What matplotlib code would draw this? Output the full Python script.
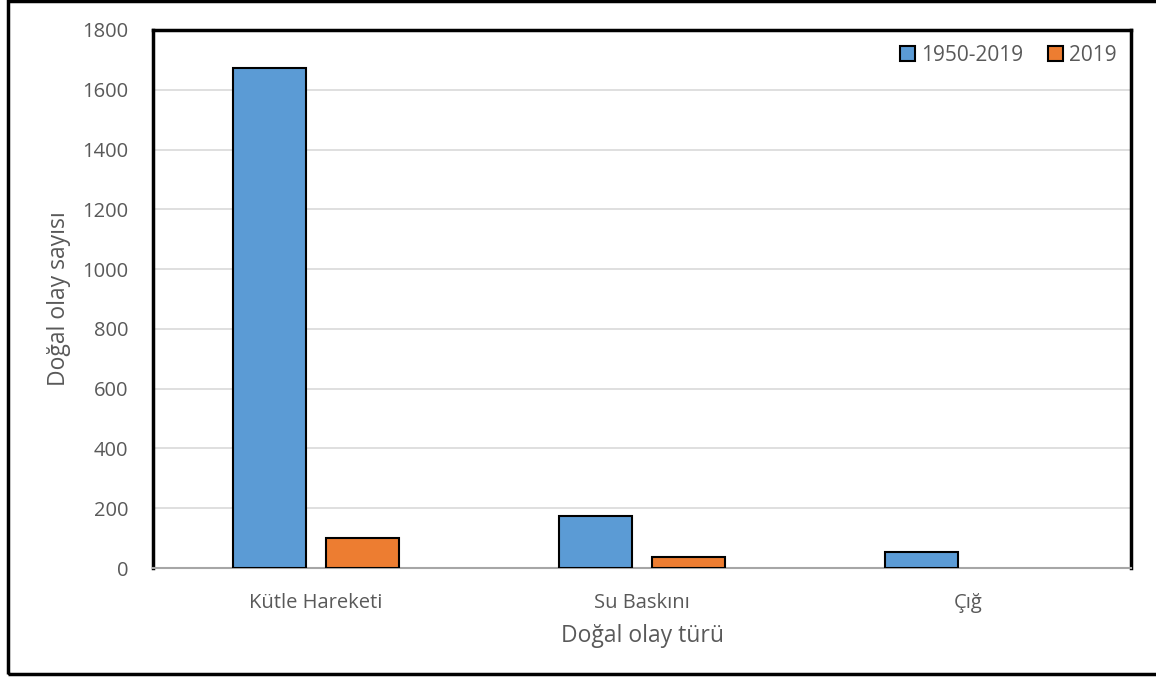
import numpy as np
import matplotlib
matplotlib.use('Agg')
import matplotlib.pyplot as plt
from matplotlib.patches import Rectangle

plt.rcParams['font.family'] = ['Open Sans', 'DejaVu Sans']

turler = ['Kütle Hareketi', 'Su Baskını', 'Çığ']
donem_1950_2019 = [1672, 175, 53]
yil_2019 = [100, 37, 0]
seri_adlari = ['1950-2019', '2019']

renk_mavi = '#5B9BD5'
renk_turuncu = '#ED7D31'
gri = '#595959'

fig = plt.figure(figsize=(11.56, 6.77), dpi=100)
ax = fig.add_axes([0.1324, 0.161, 0.846, 0.7947])

x = np.arange(len(turler))
w = 0.224
b1 = ax.bar(x - 0.143, donem_1950_2019, w, color=renk_mavi, edgecolor='black',
            linewidth=1.5, label=seri_adlari[0], zorder=3)
b2 = ax.bar(x + 0.143, yil_2019, w, color=renk_turuncu, edgecolor='black',
            linewidth=1.5, label=seri_adlari[1], zorder=3)
# sıfır değerli çubuklar çizgi bırakmasın
for bars, vals in ((b1, donem_1950_2019), (b2, yil_2019)):
    for b, v in zip(bars, vals):
        if v == 0:
            b.set_linewidth(0)

ax.set_xlim(-0.5, 2.5)
ax.set_ylim(0, 1800)
ax.set_yticks(range(0, 1801, 200))
ax.set_xticks(x)
ax.set_xticklabels(turler)
ax.yaxis.grid(True, color='#D9D9D9', linewidth=1.2, zorder=0)
ax.tick_params(axis='both', length=0, labelsize=14.5, colors=gri)
ax.tick_params(axis='x', pad=18)
ax.tick_params(axis='y', pad=18)

for side in ['left', 'top', 'right']:
    ax.spines[side].set_linewidth(2.5)
    ax.spines[side].set_color('black')
ax.spines['bottom'].set_color('#A6A6A6')
ax.spines['bottom'].set_linewidth(1.5)

ax.set_xlabel('Doğal olay türü', fontsize=16.5, color=gri, labelpad=8)
ax.set_ylabel('Doğal olay sayısı', fontsize=16.5, color=gri, labelpad=8)

leg = ax.legend(loc='upper right', ncol=2, frameon=False, fontsize=15,
                handlelength=0.7, handleheight=0.7, handletextpad=0.3,
                columnspacing=1.2, borderaxespad=0.3)
for t in leg.get_texts():
    t.set_color(gri)

# dış çerçeve
fig.patches.append(Rectangle((0.0065, 0.005), 1.0, 0.993, transform=fig.transFigure,
                             fill=False, edgecolor='black', linewidth=2.5))

fig.savefig('out.png', dpi=100)
